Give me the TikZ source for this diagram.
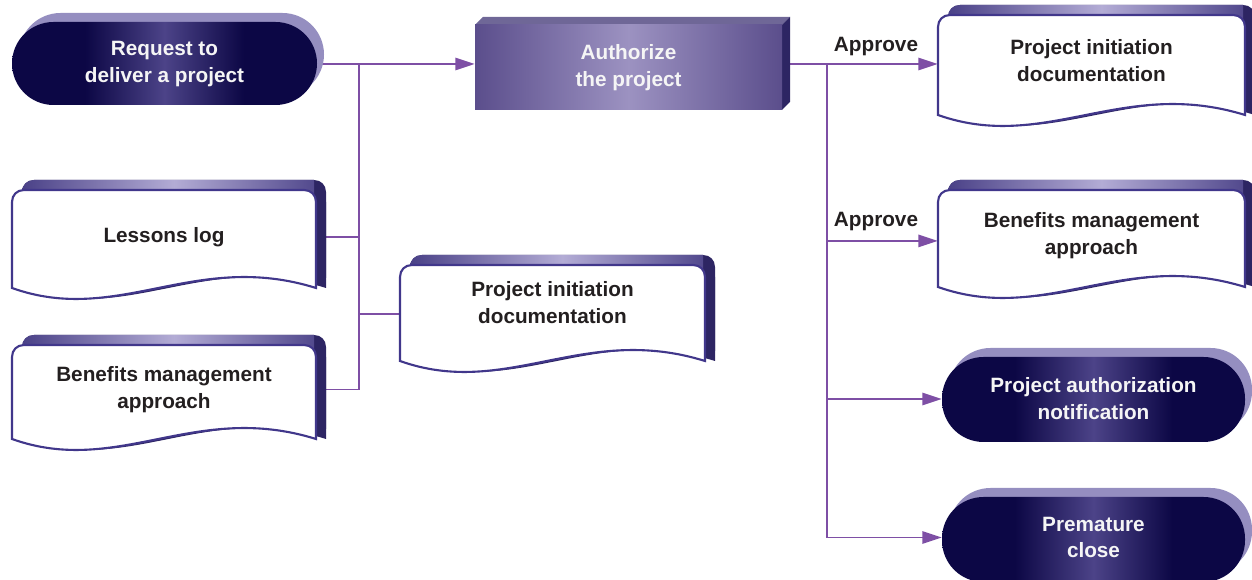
\documentclass[tikz,border=0pt]{standalone}
\usepackage{fontspec}
\setmainfont{Liberation Sans}
\usetikzlibrary{arrows.meta,calc}
\definecolor{pnavy}{HTML}{0C0745}
\definecolor{pmid}{HTML}{4C4388}
\definecolor{pillback}{HTML}{958EC0}
\definecolor{authA}{HTML}{5B4E8C}
\definecolor{authB}{HTML}{9C92C1}
\definecolor{bevtop}{HTML}{6F6797}
\definecolor{sidedark}{HTML}{2D2563}
\definecolor{docborder}{HTML}{41378B}
\definecolor{bevA}{HTML}{4A4187}
\definecolor{bevB}{HTML}{B3ACD5}
\definecolor{linecol}{HTML}{7E4FA5}
\definecolor{txtdark}{HTML}{231F20}
\definecolor{txtlight}{HTML}{F5F5F5}
\pgfdeclarehorizontalshading{pillshade}{100bp}{color(0bp)=(pnavy); color(25bp)=(pnavy); color(37bp)=(pnavy); color(50bp)=(pmid); color(63bp)=(pnavy); color(75bp)=(pnavy); color(100bp)=(pnavy)}
\pgfdeclarelayer{bg}
\pgfsetlayers{bg,main}
\newcommand\docpath[4]{(#1,#4) -- (#1,#2+12) .. controls (#1,#2+5) and (#1+5,#2) .. (#1+12,#2) -- (#3-12,#2) .. controls (#3-5,#2) and (#3,#2+5) .. (#3,#2+12) -- (#3,#4) .. controls ({#1+0.6*(#3-#1)},#4-38) and ({#1+0.35*(#3-#1)},#4+38) .. (#1,#4) -- cycle}
\newcommand\docshape[4]{%
  \fill[sidedark, shift={(10,-10)}] \docpath{#1}{#2}{#3}{#4};
  \fill[sidedark, shift={(10,0)}] \docpath{#1}{#2}{#3}{#4};
  \begin{scope}
    \clip (#1-5,#2-15) rectangle (#3-2,#2+4);
    \shade[left color=bevA, right color=bevA, middle color=bevB, shift={(10,-10)}] \docpath{#1}{#2}{#3}{#4};
  \end{scope}
  \filldraw[fill=white, draw=docborder, line width=1.2pt] \docpath{#1}{#2}{#3}{#4};}
\newcommand\pillshape[4]{%
  \fill[pillback, rounded corners=0.83cm] (#1+7,#2-9) rectangle (#3+7,#4-9);
  \shade[shading=pillshade, rounded corners=0.83cm] (#1,#2) rectangle (#3,#4);}
\tikzset{
  conn/.style={draw=linecol, line width=1.1pt},
  arr/.style={conn, -{Triangle[length=11pt,width=7pt]}},
  txtbase/.style={font=\bfseries\fontsize{11.8}{15.3}\selectfont, align=center, inner sep=0pt},
  darkbox/.style 2 args={txtbase, text=txtlight, minimum width=#1*0.02cm, minimum height=#2*0.02cm},
  lightbox/.style 2 args={txtbase, text=txtdark, minimum width=#1*0.02cm, minimum height=#2*0.02cm},
  lbl/.style={txtbase, text=txtdark}
}
\begin{document}
\begin{tikzpicture}[x=0.02cm,y=-0.02cm]
\useasboundingbox (0,0) rectangle (1252,580);
\clip (0,0) rectangle (1252,580);
% shapes
\pillshape{12}{22}{317}{105}
\fill[bevtop] (475,25) -- (483,17) -- (790,17) -- (782,25) -- cycle;
\fill[sidedark] (782,25) -- (790,17) -- (790,102) -- (782,110) -- cycle;
\shade[left color=authA, right color=authA, middle color=authB] (475,25) rectangle (782,110);
\docshape{12}{190}{316}{288}
\docshape{12}{345}{316}{439}
\docshape{400}{265}{705}{361}
\docshape{938}{15}{1245}{115}
\docshape{938}{190}{1245}{287}
\pillshape{942}{357}{1245}{442}
\pillshape{942}{497}{1245}{582}
% nodes
\node[darkbox={305}{83}] (req) at (164.5,64) {Request to\\deliver a project};
\node[darkbox={307}{85}] (auth) at (628.5,68) {Authorize\\the project};
\node[lightbox={304}{98}] (lessons) at (164,237) {Lessons log};
\node[lightbox={304}{94}] (benl) at (164,389.5) {Benefits management\\approach};
\node[lightbox={305}{96}] (pidm) at (552.5,303) {Project initiation\\documentation};
\node[lightbox={307}{100}] (pidr) at (1091.5,61) {Project initiation\\documentation};
\node[lightbox={307}{97}] (benr) at (1091.5,236) {Benefits management\\approach};
\node[darkbox={303}{85}] (pan) at (1093.5,399) {Project authorization\\notification};
\node[darkbox={303}{85}] (pmc) at (1093.5,537.5) {Premature\\close};
\node[lbl] (ap1) at (876,46.7) {Approve};
\node[lbl] (ap2) at (876,221.5) {Approve};
% connectors
\begin{pgfonlayer}{bg}
\coordinate (j1) at (359,64);
\coordinate (j2) at (827,64);
\draw[arr] (req.east) -- (req.east -| auth.west);
\draw[conn] (j1) |- (lessons.east);
\draw[conn] (j1) |- (benl.east);
\draw[conn] (j1) |- ([yshift=-6.2pt]pidm.west);
\draw[conn] (auth.east |- j2) -- (j2);
\draw[arr] (j2) -- (j2 -| pidr.west);
\draw[arr] (j2) |- ([yshift=-2.8pt]benr.west);
\draw[arr] (j2) |- (pan.west);
\draw[arr] (j2) |- (pmc.west);
\end{pgfonlayer}
\end{tikzpicture}
\end{document}
